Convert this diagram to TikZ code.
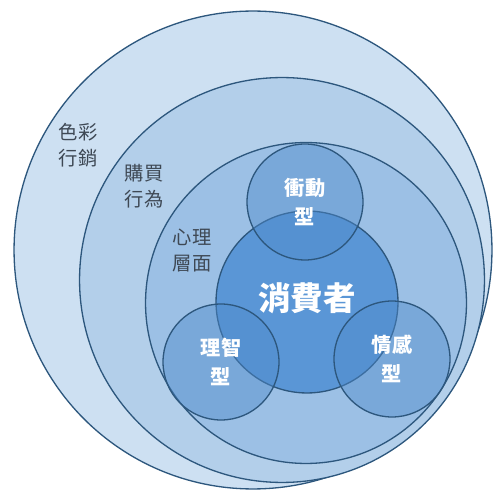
\documentclass[tikz,border=0pt]{standalone}
\usepackage{fontspec}
\setmainfont{Noto Sans CJK TC}
\usepackage{tikz}
\usetikzlibrary{positioning}

\definecolor{ringline}{HTML}{2D577D}
\definecolor{ringA}{HTML}{CDE0F2}
\definecolor{ringB}{HTML}{B3CFEA}
\definecolor{ringC}{HTML}{9CC0E5}
\definecolor{coreblue}{HTML}{5A96D6}
\definecolor{typeblue}{HTML}{4F8BCC}
\definecolor{labelgray}{HTML}{3E4854}

\tikzset{
  ring/.style={circle, draw=ringline, line width=0.75pt, inner sep=0pt},
  typecircle/.style={ring, fill=typeblue, fill opacity=0.45, text opacity=1,
        minimum size=2.32cm, text=white, align=center,
        font=\fontsize{11.5}{16.5}\selectfont\bfseries},
  ringlabel/.style={text=labelgray, align=center,
        font=\fontsize{11}{14.8}\selectfont}
}

\begin{document}
\begin{tikzpicture}[x=0.02cm, y=-0.02cm]
  \useasboundingbox (0,0) rectangle (500,496);
  \fill[white] (0,0) rectangle (500,496);

  % Nested rings
  \node[ring, fill=ringA, minimum size=9.56cm] (color) at (253,250) {};
  \node[ring, fill=ringB, minimum size=8.10cm] (buying) at (282,280) {};
  \node[ring, fill=ringC, minimum size=6.42cm] (mind) at (306,303) {};
  \node[ring, fill=coreblue, minimum size=3.64cm] (consumer) at (307,302) {};

  % Ring labels
  \node[ringlabel] (colorlbl)  at (78,145)  {色彩\\行銷};
  \node[ringlabel] (buyinglbl) at (144,186) {購買\\行為};
  \node[ringlabel] (mindlbl)   at (192,250) {心理\\層面};

  % Consumer types
  \node[typecircle] (impulse) at (305,202) {衝動\\型};
  \node[typecircle] (reason)  at (221,362) {理智\\型};
  \node[typecircle] (emotion) at (392,359) {情感\\型};

  \node[text=white, font=\fontsize{18.5}{20}\selectfont\bfseries] (consumerlbl)
        at (307,298) {消費者};
\end{tikzpicture}
\end{document}
